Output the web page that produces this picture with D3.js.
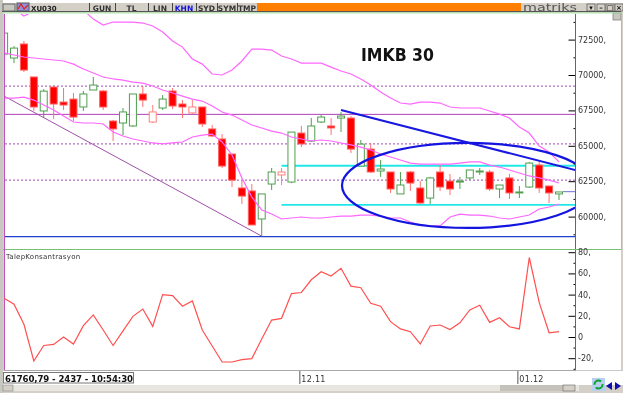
<!DOCTYPE html>
<html>
<head>
<meta charset="utf-8">
<script src="https://cdn.jsdelivr.net/npm/d3@7"></script>
<style>
  html, body { margin: 0; padding: 0; background: #fff; }
  svg { display: block; filter: blur(0.35px); }
  text { font-family: "DejaVu Sans", sans-serif; }
</style>
</head>
<body>
<svg id="chart" width="623" height="393"></svg>
<script>
// Candles, left to right (prices).
const openPrices = [71480, 71200, 72190, 69860, 67460, 69150, 68090, 68300, 67740, 68940, 68870, 66750, 66610, 66400, 68660, 66680, 67670, 68870, 67950, 67320, 67740, 66190, 65480, 64420, 62020, 61810, 59830, 62300, 62940, 62440, 65900, 65340, 66680, 66400, 66960, 66960, 63570, 64770, 63220, 63150, 61600, 63150, 62020, 61310, 63150, 62510, 62440, 62730, 63150, 63150, 61950, 62730, 61670, 62090, 63640, 62160, 61600];
const closePrices = [72960, 71900, 70350, 67740, 68860, 67950, 67880, 67030, 68660, 69290, 67740, 66190, 67390, 68660, 68230, 67390, 68300, 67810, 67740, 67740, 66540, 65690, 63570, 62580, 61450, 59410, 61600, 63150, 63150, 65970, 65130, 66400, 67030, 66260, 67100, 64770, 65120, 63150, 63360, 61950, 62230, 62370, 60960, 62730, 62090, 61950, 62510, 63290, 63220, 61950, 62230, 61670, 61740, 63780, 62020, 61670, 61740];
const highPrices = [72960, 72040, 72400, 69860, 69010, 69290, 69080, 68730, 68870, 69860, 68940, 66820, 67670, 68660, 69220, 67880, 68580, 69080, 68230, 68230, 67740, 66470, 65830, 64420, 62580, 62300, 61600, 63430, 63430, 65970, 66400, 66960, 67170, 66960, 67380, 67100, 65410, 65200, 64000, 63150, 63150, 63220, 62510, 62800, 63640, 63010, 62800, 63290, 63430, 63290, 62230, 63010, 62160, 63860, 63860, 62160, 61740];
const lowPrices = [71410, 70840, 70210, 67460, 67030, 66890, 67530, 66750, 67460, 69290, 67530, 65340, 65760, 66330, 67740, 66610, 67530, 67600, 66960, 67240, 66330, 65620, 63430, 62090, 60890, 59410, 58630, 61880, 62230, 62370, 64910, 65270, 66610, 65760, 65970, 64490, 63710, 63080, 62800, 61670, 61600, 61810, 60890, 60890, 61810, 61520, 61950, 62580, 62940, 61810, 61310, 61240, 61310, 62020, 61670, 60960, 61170];
const hollowRed = [15, 19, 28];

// Bollinger bands, one value per candle.
const upperBand = [74940, 74660, 74160, 74520, 74870, 75080, 75290, 75010, 74590, 73950, 73530, 73740, 73740, 73740, 73670, 73460, 73030, 72400, 71970, 71130, 70770, 70070, 70000, 70350, 70990, 71830, 71830, 71760, 71340, 71130, 70840, 70840, 70840, 70560, 70280, 70070, 69720, 69290, 68800, 68370, 68020, 67950, 68090, 68090, 68020, 67740, 67670, 67670, 67670, 67460, 67240, 66960, 66330, 65900, 64980, 64560, 63860];
const middleBand = [71550, 71410, 71270, 71200, 71130, 71060, 70990, 70770, 70420, 70140, 69860, 69720, 69640, 69500, 69430, 69220, 68940, 68730, 68510, 68300, 68160, 67810, 67390, 67170, 66820, 66470, 66260, 66040, 65900, 65620, 65480, 65340, 65410, 65340, 65200, 65060, 64910, 64700, 64420, 64210, 64000, 63780, 63710, 63710, 63710, 63710, 63780, 63860, 63860, 63640, 63500, 63290, 63080, 62870, 62730, 62580, 62370];
const lowerBand = [68370, 68370, 68440, 68230, 67880, 67530, 67100, 66680, 66610, 66610, 66540, 65970, 65690, 65480, 65340, 65200, 65130, 65200, 65270, 65620, 65760, 65830, 65270, 64350, 62730, 61380, 60470, 60180, 59830, 59900, 59970, 59900, 59900, 59970, 60040, 60040, 60110, 60110, 60040, 59900, 59900, 59620, 59410, 59340, 59340, 59970, 60180, 60110, 60110, 60040, 59900, 59830, 59970, 60110, 60540, 60680, 60890];

// Hand drawn levels and trend lines.
const dashedLevels = [69210, 65130, 62580];
const solidLevel = 67220;
const supportLevel = 58580;
const cyanLevels = [63590, 60830];
const lastPrice = 61760;
const purpleTrend = [[0, 68510], [26, 58620]];
const blueTrend = [[34, 67530], [58, 63220]];
const circleCenter = [46.8, 62200];
const circleRadius = [12.7, 3000];

// TalepKonsantrasyon oscillator.
const oscillator = [36.5, 31, 12, -22.6, -8, -7, 0, -6.6, 10.7, 20.8, 6.6, -8, 5.7, 19.5, 26.4, 10, 40, 39, 29, 34, 6.6, -8.5, -23.6, -23.6, -21.4, -20.4, -1.9, 16, 17.6, 41, 42, 54, 61.6, 57.5, 64.8, 48, 46.5, 31.8, 29, 14.5, 7.6, 5, -6.6, 10.4, 11.3, 7, 13.4, 25.5, 30, 13.8, 18.2, 9.7, 7.6, 75, 32.7, 4, 5];

const priceTicks = [60000, 62500, 65000, 67500, 70000, 72500];
const oscTicks = [-20, 0, 20, 40, 60, 80];
const dateLabels = [[30, "12.11"], [52, "01.12"]];
const toolbarButtons = ["GUN", "TL", "LIN", "KHN", "SYD", "SYM", "TMP"];

const svg = d3.select("#chart");

// Scales
const x = d3.scaleLinear().domain([0, 56]).range([4.1, 559]);
const yPrice = d3.scaleLinear().domain([60000, 72500]).range([216.6, 39.6]);
const yOsc = d3.scaleLinear().domain([0, 80]).range([337, 252.2]);

const clip = svg.append("defs").append("clipPath").attr("id", "price-clip");
clip.append("rect").attr("x", 5).attr("y", 14).attr("width", 570).attr("height", 235);

// Window chrome
svg.append("rect").attr("width", 623).attr("height", 393).attr("fill", "#d4d0c8");
svg.append("rect").attr("x", 4).attr("y", 13).attr("width", 617).attr("height", 357).attr("fill", "#fff");
svg.append("rect").attr("x", 3).attr("y", 371).attr("width", 620).attr("height", 14).attr("fill", "#fff");
svg.append("rect").attr("x", 0).attr("y", 0).attr("width", 623).attr("height", 3).attr("fill", "#fff");
svg.append("rect").attr("x", 0).attr("y", 0).attr("width", 3).attr("height", 393).attr("fill", "#c8c8c0");
svg.append("rect").attr("x", 257).attr("y", 3).attr("width", 264).attr("height", 8).attr("fill", "#ff8000");
svg.append("line").attr("x1", 2).attr("x2", 621).attr("y1", 11.5).attr("y2", 11.5).attr("stroke", "#555");

const buttonEdges = [89, 115, 148, 172, 196, 217, 237, 257];
toolbarButtons.forEach((b, i) => {
    svg.append("line").attr("x1", buttonEdges[i] + 0.5).attr("x2", buttonEdges[i] + 0.5)
        .attr("y1", 3).attr("y2", 11).attr("stroke", "#444");
    svg.append("text").attr("x", (buttonEdges[i] + buttonEdges[i + 1]) / 2).attr("y", 10.5)
        .attr("text-anchor", "middle").attr("font-size", 7.5).attr("font-weight", "bold")
        .attr("fill", b === "KHN" ? "#1010e0" : "#333").text(b);
});
svg.append("text").attr("x", 31).attr("y", 10.5).attr("font-size", 7).attr("font-weight", "bold")
    .attr("fill", "#222").text("XU030");
svg.append("rect").attr("x", 3).attr("y", 4).attr("width", 12).attr("height", 7).attr("fill", "#c8c8c0").attr("stroke", "#666");
svg.append("rect").attr("x", 17).attr("y", 3).attr("width", 12).attr("height", 8).attr("fill", "#9090d8").attr("stroke", "#555");
svg.append("path").attr("d", "M18 9L21 4L24 9L28 5").attr("fill", "none").attr("stroke", "#e02020").attr("stroke-width", 1.2);

// Upper right logo and window buttons
svg.append("rect").attr("x", 521).attr("y", 3).attr("width", 100).attr("height", 8).attr("fill", "#d4d0c8");
svg.append("text").attr("x", 523).attr("y", 10.5).attr("font-size", 10.5).attr("textLength", 54)
    .attr("lengthAdjust", "spacingAndGlyphs").attr("fill", "#555").text("matriks");
[[587, "\u25BE"], [597, "\u2013"], [606, "\u25A1"], [615, "\u00D7"]].forEach(d => {
    svg.append("rect").attr("x", d[0]).attr("y", 4).attr("width", 8).attr("height", 7).attr("fill", "#d4d0c8").attr("stroke", "#555").attr("stroke-width", 0.7);
    svg.append("text").attr("x", d[0] + 4).attr("y", 10).attr("text-anchor", "middle").attr("font-size", 7).attr("font-weight", "bold").attr("fill", "#111").text(d[1]);
});
svg.append("rect").attr("x", 613).attr("y", 13).attr("width", 8).attr("height", 7).attr("fill", "#c8c8c0").attr("stroke", "#777").attr("stroke-width", 0.7);

// Pane borders
svg.append("line").attr("x1", 4).attr("x2", 621).attr("y1", 13).attr("y2", 13).attr("stroke", "#a8e8a8");
svg.append("line").attr("x1", 3).attr("x2", 622).attr("y1", 249.5).attr("y2", 249.5).attr("stroke", "#78c078");
svg.append("line").attr("x1", 621.5).attr("x2", 621.5).attr("y1", 13).attr("y2", 250).attr("stroke", "#90d090");
svg.append("line").attr("x1", 4.5).attr("x2", 4.5).attr("y1", 14).attr("y2", 370).attr("stroke", "#c050c0");
svg.append("line").attr("x1", 4).attr("x2", 576).attr("y1", 370.5).attr("y2", 370.5).attr("stroke", "#a8a8a8");
svg.append("line").attr("x1", 576).attr("x2", 623).attr("y1", 370.5).attr("y2", 370.5).attr("stroke", "#c8c8c8");

const pane = svg.append("g").attr("clip-path", "url(#price-clip)");

// Level lines
dashedLevels.forEach(v => {
    pane.append("line").attr("x1", 5).attr("x2", 575).attr("y1", yPrice(v)).attr("y2", yPrice(v))
        .attr("stroke", "#b070c0").attr("stroke-width", 1.2).attr("stroke-dasharray", "2,2");
});
pane.append("line").attr("x1", 5).attr("x2", 575).attr("y1", yPrice(solidLevel)).attr("y2", yPrice(solidLevel))
    .attr("stroke", "#b040b8").attr("stroke-width", 1);
pane.append("line").attr("x1", 5).attr("x2", 575).attr("y1", yPrice(supportLevel)).attr("y2", yPrice(supportLevel))
    .attr("stroke", "#2040d0").attr("stroke-width", 1.2);
cyanLevels.forEach(v => {
    pane.append("line").attr("x1", x(28)).attr("x2", 575).attr("y1", yPrice(v)).attr("y2", yPrice(v))
        .attr("stroke", "#20e8e8").attr("stroke-width", 1.8);
});
pane.append("line").attr("x1", x(56) + 4).attr("x2", 575).attr("y1", yPrice(lastPrice)).attr("y2", yPrice(lastPrice))
    .attr("stroke", "#7070d0");

// Purple trend line runs under the candles
const trendLine = d3.line().x(d => x(d[0])).y(d => yPrice(d[1]));
pane.append("path").attr("d", trendLine(purpleTrend)).attr("fill", "none").attr("stroke", "#a050a8").attr("stroke-width", 1);

// Candles
const candles = pane.append("g").selectAll("g")
    .data(d3.range(openPrices.length))
    .join("g");

const isUp = i => closePrices[i] > openPrices[i];
const candleColor = i => hollowRed.includes(i) ? "#ff8080" : (isUp(i) ? "#4f9f4f" : "#ff0000");

candles.append("line")
    .attr("x1", i => x(i)).attr("x2", i => x(i))
    .attr("y1", i => yPrice(highPrices[i])).attr("y2", i => yPrice(lowPrices[i]))
    .attr("stroke", i => isUp(i) ? candleColor(i) : "#ff7070");

candles.append("rect")
    .attr("x", i => x(i) - 3.5)
    .attr("width", 7)
    .attr("y", i => yPrice(Math.max(openPrices[i], closePrices[i])))
    .attr("height", i => Math.abs(yPrice(openPrices[i]) - yPrice(closePrices[i])))
    .attr("fill", i => isUp(i) ? "#fff" : "#ff0000")
    .attr("stroke", i => isUp(i) ? candleColor(i) : "#ff6060")
    .attr("stroke-width", 1);

// Bollinger bands
const bandLine = d3.line().x((d, i) => x(i)).y(d => yPrice(d));
[upperBand, middleBand, lowerBand].forEach(band => {
    pane.append("path").attr("d", bandLine(band)).attr("fill", "none")
        .attr("stroke", "#ff66ff").attr("stroke-width", 1.2);
});

// Blue trend line and circle
pane.append("path").attr("d", trendLine(blueTrend)).attr("fill", "none").attr("stroke", "#1818e0").attr("stroke-width", 2);
pane.append("ellipse")
    .attr("cx", x(circleCenter[0])).attr("cy", yPrice(circleCenter[1]))
    .attr("rx", x(circleRadius[0]) - x(0))
    .attr("ry", yPrice(0) - yPrice(circleRadius[1]))
    .attr("fill", "none").attr("stroke", "#1414e0").attr("stroke-width", 2.2);

svg.append("text").attr("x", 361).attr("y", 61)
    .attr("font-size", 18.5).attr("font-weight", "bold").attr("fill", "#111")
    .attr("textLength", 73).attr("lengthAdjust", "spacingAndGlyphs").text("IMKB 30");

// Right axes
function drawAxis(scale, ticks, top, bottom, minorStep) {
    const minor = d3.range(d3.min(ticks) - minorStep, d3.max(ticks) + minorStep + 1, minorStep)
        .filter(v => scale(v) > top && scale(v) < bottom && !ticks.includes(v));
    const g = svg.append("g").attr("transform", "translate(575.5,0)");
    g.call(d3.axisLeft(scale).tickValues(minor).tickSize(2).tickFormat("").tickSizeOuter(0));
    g.selectAll("path").remove();
    const major = svg.append("g").attr("transform", "translate(575.5,0)");
    major.call(d3.axisLeft(scale).tickValues(ticks).tickSize(7).tickFormat(""));
    major.selectAll("path").remove();
    svg.selectAll(null).data(ticks).join("text")
        .attr("x", 578).attr("y", d => scale(d) + 3)
        .attr("font-size", 8).attr("fill", "#333")
        .text(d => d === 0 ? "0" : d + ",");
    svg.append("line").attr("x1", 575.5).attr("x2", 575.5).attr("y1", top).attr("y2", bottom).attr("stroke", "#666");
}
drawAxis(yPrice, priceTicks, 14, 249, 1250);
drawAxis(yOsc, oscTicks, 250, 370, 10);

// Oscillator pane
svg.append("text").attr("x", 6).attr("y", 259).attr("font-size", 7).attr("letter-spacing", 0.25).attr("fill", "#333").text("TalepKonsantrasyon");
const oscLine = d3.line().x((d, i) => x(i)).y(d => yOsc(d));
svg.append("path").attr("d", oscLine(oscillator)).attr("fill", "none").attr("stroke", "#ff5050").attr("stroke-width", 1.2);

// Status box and date labels
svg.append("rect").attr("x", 3.5).attr("y", 372.5).attr("width", 130).attr("height", 10.5).attr("fill", "#fff").attr("stroke", "#777");
svg.append("text").attr("x", 5).attr("y", 381.5).attr("font-size", 8.6).attr("font-weight", "bold").attr("fill", "#111")
    .attr("textLength", 128).text("61760,79 - 2437 - 10:54:30");
dateLabels.forEach(d => {
    svg.append("line").attr("x1", x(d[0]) - 1.5).attr("x2", x(d[0]) - 1.5).attr("y1", 371).attr("y2", 384).attr("stroke", "#555");
    svg.append("text").attr("x", x(d[0])).attr("y", 381.5).attr("font-size", 8).attr("letter-spacing", 0.3).attr("fill", "#333").text(d[1]);
});

// Scroll bar and navigation buttons
svg.append("rect").attr("x", 3).attr("y", 385).attr("width", 576).attr("height", 6).attr("fill", "#e8e6e0");
svg.append("rect").attr("x", 3).attr("y", 385).attr("width", 10).attr("height", 6).attr("fill", "#d4d0c8").attr("stroke", "#888").attr("stroke-width", 0.6);
svg.append("rect").attr("x", 500).attr("y", 385).attr("width", 63).attr("height", 6).attr("fill", "#c4c2ba");
svg.append("rect").attr("x", 563).attr("y", 385).attr("width", 12).attr("height", 6).attr("fill", "#d4d0c8").attr("stroke", "#666").attr("stroke-width", 0.6);
svg.append("rect").attr("x", 592).attr("y", 378).attr("width", 13).attr("height", 13).attr("fill", "#b8d0f0");
svg.append("circle").attr("cx", 598.5).attr("cy", 384.5).attr("r", 4).attr("fill", "none").attr("stroke", "#10a030").attr("stroke-width", 2).attr("stroke-dasharray", "9,3");
svg.append("path").attr("d", "M612 382L606 386L612 390Z").attr("fill", "#1010b0");
svg.append("path").attr("d", "M615 382L621 386L615 390Z").attr("fill", "#1010b0");
</script>
</body>
</html>
